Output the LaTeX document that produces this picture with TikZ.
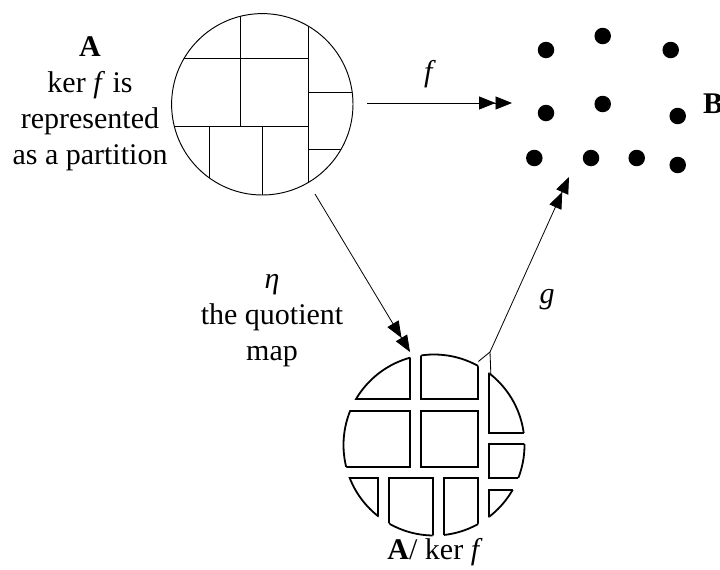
\documentclass[tikz,border=0pt]{standalone}
\usepackage{fontspec}
\setmainfont{Liberation Serif}
\usetikzlibrary{arrows.meta,calc}

\tikzset{
  lbl/.style={font=\fontsize{30}{36}\selectfont, inner sep=0pt, align=center},
  dot/.style={circle, fill=black, minimum size=16.5pt, inner sep=0pt},
  surj/.style={line width=0.8pt,
    -{Triangle[length=16.5pt,width=13pt]Triangle[length=16.5pt,width=13pt]}},
  edge/.style={line width=0.85pt},
}

% one block of the quotient set: box (#1,#2)-(#3,#4) cut by the disc Q
\newcommand\qcell[4]{%
  \begin{scope}
    \clip (#1,#2) rectangle (#3,#4);
    \draw[line width=1.8pt] (Q) circle[radius=90.5pt];
  \end{scope}
  \begin{scope}
    \clip (Q) circle[radius=90.5pt];
    \draw[line width=1.8pt] (#1,#2) rectangle (#3,#4);
  \end{scope}}

\begin{document}
\begin{tikzpicture}[x=1pt,y=-1pt]
\useasboundingbox (0,0) rectangle (720,570);

% ---- the set A with the partition ker f
\coordinate (P) at (262.3,104.3);
\begin{scope}
  \clip (P) circle[radius=90.7pt];
  \draw[edge] (150,58.3) -- (308,58.3);
  \draw[edge] (150,126.7) -- (308,126.7);
  \draw[edge] (240,0) -- (240,126.7);
  \draw[edge] (308,0) -- (308,200);
  \draw[edge] (308,92.7) -- (360,92.7);
  \draw[edge] (308,149.3) -- (360,149.3);
  \draw[edge] (209,126.7) -- (209,200);
  \draw[edge] (262.7,126.7) -- (262.7,200);
\end{scope}
\draw[line width=0.95pt] (P) circle[radius=90.7pt];

\node[lbl] (Atext) at (90,104) {\textbf{A}\\ker \textit{f} is\\represented\\as a partition};

% ---- the set B
\node[dot] (d1) at (546,50) {};
\node[dot] (d2) at (602.7,36) {};
\node[dot] (d3) at (670.7,50) {};
\node[dot] (d4) at (546,113) {};
\node[dot] (d5) at (602.7,104) {};
\node[dot] (d6) at (677.7,116) {};
\node[dot] (d7) at (534.3,158) {};
\node[dot] (d8) at (591,158) {};
\node[dot] (d9) at (636.7,158) {};
\node[dot] (d10) at (677.7,165) {};
\node[lbl, anchor=west] (Btext) at (703,104) {\textbf{B}};

% ---- the quotient A / ker f
\coordinate (Q) at (434,445);
\qcell{300}{300}{410}{399.3}
\qcell{421.3}{300}{478.3}{399.3}
\qcell{489.3}{300}{560}{432.7}
\qcell{300}{410.7}{410}{466.7}
\qcell{420.7}{410.7}{478.3}{466.7}
\qcell{489.3}{444.3}{560}{477.7}
\qcell{300}{477.7}{378.3}{560}
\qcell{389.3}{477.7}{432.7}{560}
\qcell{444}{477.7}{478.3}{560}
\qcell{489.3}{490}{560}{560}
\node[lbl] (Qtext) at (435,552) {\textbf{A}/ ker \textit{f}};

% ---- the maps
\coordinate (fs) at (367,103);
\coordinate (fe) at (512,103);
\draw[surj] (fs) -- (fe);
\node[lbl] (flbl) at (430,74) {\textit{f}};

\coordinate (es) at (315,194);
\coordinate (ee) at (410,352);
\draw[surj] (es) -- (ee);
\node[lbl] (etalbl) at (272,321) {\textit{η}\\the quotient\\map};

\coordinate (gs) at (490,352);
\coordinate (ge) at (569,177);
\draw[surj] (gs) -- (ge);
\draw[edge] (gs) -- ($(gs)!15pt!153.5:(ge)$);
\draw[edge] (gs) -- ($(gs)!22pt!-153.5:(ge)$);
\node[lbl] (glbl) at (547,300) {\textit{g}};
\end{tikzpicture}
\end{document}
